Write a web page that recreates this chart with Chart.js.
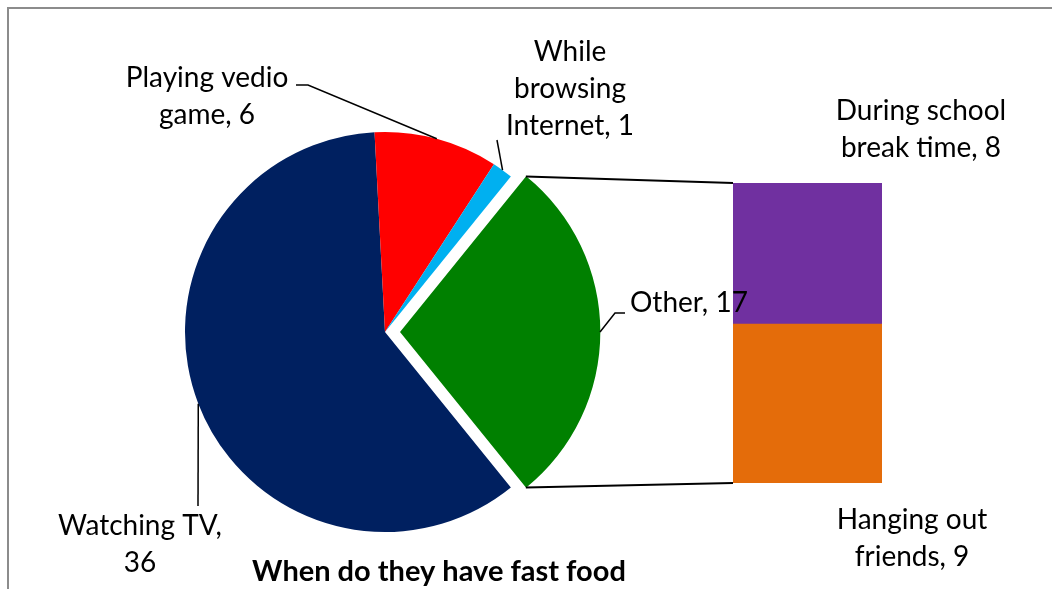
<!DOCTYPE html>
<html>
<head>
  <title>When do they have fast food</title>
  <meta charset="UTF-8">
  <script src="https://cdn.jsdelivr.net/npm/chart.js"></script>
  <style>
    body {
      margin: 0;
      background: white;
      font-family: Lato, "Open Sans", sans-serif;
    }
    .wrap {
      position: relative;
      width: 1052px;
      height: 589px;
      overflow: hidden;
    }
    .frame {
      position: absolute;
      left: 7px;
      top: 7px;
      width: 1100px;
      height: 640px;
      border-left: 2px solid #8c8c8c;
      border-top: 2px solid #8c8c8c;
    }
    canvas {
      position: absolute;
      left: 0;
      top: 0;
    }
  </style>
</head>
<body>
  <div class="wrap">
    <div class="frame"></div>
    <!-- bar sits underneath so the pie's labels draw over it -->
    <canvas id="barChart" width="1052" height="589"></canvas>
    <canvas id="pieChart" width="1052" height="589"></canvas>
  </div>

  <script>
    // Main pie
    const pieLabels = ['Watching TV', 'Playing vedio game', 'While browsing Internet', 'Other'];
    const pieValues = [36, 6, 1, 17];
    const pieColors = ['#002060', '#FF0000', '#00B0F0', '#008000'];

    // Breakdown of "Other" (bottom to top in the stacked bar)
    const barLabels = ['Hanging out friends', 'During school break time'];
    const barValues = [9, 8];
    const barColors = ['#E46C0A', '#7030A0'];

    const chartTitle = 'When do they have fast food';

    const FONT = '28px Lato, "Open Sans", sans-serif';
    const TITLE_FONT = 'bold 29px Lato, "Open Sans", sans-serif';
    const LINE_H = 37;

    // where each label sits and how its leader line bends
    const pieLabelLayout = [
      { x: 140, y: 526, wrap: 190, path: [[198, 506]] },
      { x: 207, y: 78, wrap: 200, path: [[308, 85], [296, 85]] },
      { x: 570, y: 52, wrap: 150, path: [[497, 140]] },
      { x: 630, y: 303, wrap: 220, align: 'left', path: [[615, 313], [625, 313]] }
    ];
    const barLabelLayout = [
      { x: 912, y: 520, wrap: 190 },
      { x: 921, y: 111, wrap: 210 }
    ];

    function wrapText(ctx, text, maxWidth) {
      const words = text.split(' ');
      const lines = [];
      let line = '';
      words.forEach(w => {
        const test = line ? line + ' ' + w : w;
        if (line && ctx.measureText(test).width > maxWidth) {
          lines.push(line);
          line = w;
        } else {
          line = test;
        }
      });
      lines.push(line);
      return lines;
    }

    function drawLines(ctx, lines, x, y, align) {
      ctx.textAlign = align || 'center';
      lines.forEach((l, i) => ctx.fillText(l, x, y + i * LINE_H));
    }

    // explode shift of an arc, same as Chart.js ArcElement.draw
    function arcShift(arc) {
      const off = (arc.options.offset || 0) / 4;
      const mid = (arc.startAngle + arc.endAngle) / 2;
      return { dx: Math.cos(mid) * off, dy: Math.sin(mid) * off, mid: mid };
    }

    const barChart = new Chart(document.getElementById('barChart'), {
      type: 'bar',
      data: {
        labels: ['Other'],
        datasets: barLabels.map((lab, i) => ({
          label: lab,
          data: [barValues[i]],
          backgroundColor: barColors[i],
          borderWidth: 0,
          barPercentage: 1,
          categoryPercentage: 1
        }))
      },
      options: {
        responsive: false,
        animation: false,
        layout: { padding: { left: 733, right: 170, top: 183, bottom: 106 } },
        scales: {
          x: { stacked: true, display: false },
          y: { stacked: true, display: false, min: 0, max: barValues.reduce((a, b) => a + b, 0) }
        },
        plugins: { legend: { display: false }, tooltip: { enabled: false } }
      }
    });

    const annotations = {
      id: 'annotations',
      afterDraw(chart) {
        const ctx = chart.ctx;
        const arcs = chart.getDatasetMeta(0).data;
        ctx.save();
        ctx.strokeStyle = '#000';
        ctx.fillStyle = '#000';
        ctx.font = FONT;
        ctx.textBaseline = 'middle';

        // leader lines and pie labels
        arcs.forEach((arc, i) => {
          const s = arcShift(arc);
          const ax = arc.x + s.dx + Math.cos(s.mid) * arc.outerRadius;
          const ay = arc.y + s.dy + Math.sin(s.mid) * arc.outerRadius;
          const lay = pieLabelLayout[i];
          ctx.lineWidth = 1.5;
          ctx.beginPath();
          ctx.moveTo(ax, ay);
          lay.path.forEach(p => ctx.lineTo(p[0], p[1]));
          ctx.stroke();
          const lines = wrapText(ctx, pieLabels[i] + ', ' + pieValues[i], lay.wrap);
          drawLines(ctx, lines, lay.x, lay.y, lay.align);
        });

        // connectors from the exploded slice to the stacked bar
        const other = arcs[3];
        const s = arcShift(other);
        const cx = other.x + s.dx, cy = other.y + s.dy;
        const r = other.outerRadius;
        const barMeta = barChart.getDatasetMeta(0).data[0];
        const topMeta = barChart.getDatasetMeta(1).data[0];
        const barLeft = barMeta.x - barMeta.width / 2;
        ctx.lineWidth = 2;
        ctx.beginPath();
        ctx.moveTo(cx + Math.cos(other.startAngle) * r, cy + Math.sin(other.startAngle) * r);
        ctx.lineTo(barLeft, topMeta.y);
        ctx.moveTo(cx + Math.cos(other.endAngle) * r, cy + Math.sin(other.endAngle) * r);
        ctx.lineTo(barLeft, barMeta.base);
        ctx.stroke();

        // bar labels
        barLabels.forEach((lab, i) => {
          const lay = barLabelLayout[i];
          drawLines(ctx, wrapText(ctx, lab + ', ' + barValues[i], lay.wrap), lay.x, lay.y);
        });

        // title
        ctx.font = TITLE_FONT;
        ctx.textAlign = 'center';
        ctx.fillText(chartTitle, 439, 572);
        ctx.restore();
      }
    };

    new Chart(document.getElementById('pieChart'), {
      type: 'pie',
      data: {
        labels: pieLabels,
        datasets: [{
          data: pieValues,
          backgroundColor: pieColors,
          borderWidth: 0,
          offset: [0, 0, 0, 60],
          hoverOffset: 0
        }]
      },
      options: {
        responsive: false,
        animation: false,
        rotation: 141,
        radius: 200,
        layout: { padding: { left: 185, right: 467, top: 132, bottom: 57 } },
        plugins: { legend: { display: false }, tooltip: { enabled: false } }
      },
      plugins: [annotations]
    });
  </script>
</body>
</html>
